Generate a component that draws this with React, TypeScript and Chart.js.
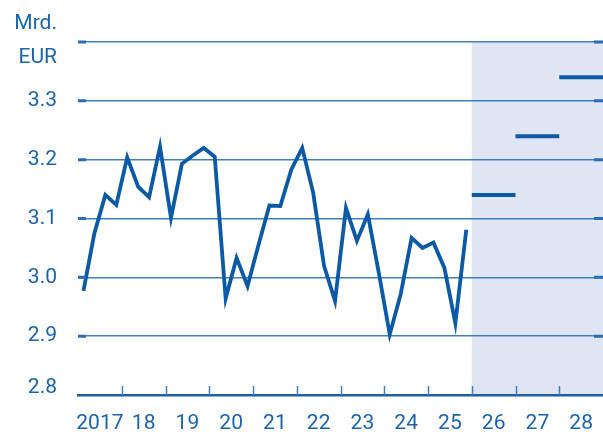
import React, { useEffect, useRef } from "react";
import { Chart, registerables } from "chart.js";

Chart.register(...registerables);

// Quarterly values 2017 Q1 .. 2025 Q4 (Mrd. EUR)
const quarterlyValues: number[] = [
  2.977, 3.075, 3.14, 3.123,
  3.204, 3.154, 3.136, 3.222,
  3.101, 3.193, 3.207, 3.22,
  3.205, 2.964, 3.033, 2.985,
  3.055, 3.122, 3.121, 3.183,
  3.22, 3.144, 3.019, 2.96,
  3.118, 3.062, 3.107, 3.008,
  2.903, 2.971, 3.067, 3.05,
  3.059, 3.016, 2.922, 3.081,
];
const firstYear = 2017;

// Annual projections
const projectionYears: number[] = [2026, 2027, 2028];
const projectionValues: number[] = [3.14, 3.24, 3.34];

const yearLabels: string[] = ["2017", "18", "19", "20", "21", "22", "23", "24", "25", "26", "27", "28"];
const yTicks: number[] = [2.8, 2.9, 3.0, 3.1, 3.2, 3.3, 3.4];
const unitLines: string[] = ["Mrd.", "EUR"];

const TEXT = "#1a63ad";
const GRID = "#3d7fc1";
const LINE = "#0c5aa6";
const SHADE = "#dfe5f2";
const FONT = "Roboto";

const decorPlugin = {
  id: "decor",
  beforeDraw(chart: any) {
    const { ctx, chartArea, scales } = chart;
    const x = scales.x;
    ctx.save();
    ctx.fillStyle = SHADE;
    const sx = x.getPixelForValue(projectionYears[0]);
    ctx.fillRect(sx, chartArea.top - 1, chartArea.right - sx, chartArea.bottom - chartArea.top + 1);
    ctx.restore();
  },
  afterDraw(chart: any) {
    const { ctx, chartArea, scales } = chart;
    const x = scales.x;
    const y = scales.y;
    ctx.save();
    // thick stubs at both ends of grid lines
    ctx.strokeStyle = "#2a6db5";
    ctx.lineWidth = 3;
    yTicks.slice(1).forEach((v) => {
      const py = y.getPixelForValue(v);
      ctx.beginPath();
      ctx.moveTo(chartArea.left, py);
      ctx.lineTo(chartArea.left + 8, py);
      ctx.moveTo(chartArea.right - 9, py);
      ctx.lineTo(chartArea.right, py);
      ctx.stroke();
    });
    // year boundary ticks
    ctx.strokeStyle = GRID;
    ctx.lineWidth = 1.5;
    for (let yr = firstYear + 1; yr < firstYear + yearLabels.length; yr++) {
      const px = Math.round(x.getPixelForValue(yr)) + 0.5;
      ctx.beginPath();
      ctx.moveTo(px, chartArea.bottom);
      ctx.lineTo(px, chartArea.bottom - 9);
      ctx.stroke();
    }
    // unit text and bottom y label (raised above the axis)
    ctx.fillStyle = TEXT;
    ctx.font = `21px ${FONT}`;
    ctx.textAlign = "right";
    ctx.textBaseline = "middle";
    ctx.fillText(unitLines[0], 57, 24);
    ctx.fillText(unitLines[1], 57, 58);
    ctx.fillText(yTicks[0].toFixed(1), 57, y.getPixelForValue(yTicks[0]) - 7);
    ctx.restore();
  },
};

export default function App() {
  const ref = useRef<HTMLCanvasElement | null>(null);

  useEffect(() => {
    if (!ref.current) return;
    const mainData = quarterlyValues.map((v, i) => ({ x: firstYear + 0.125 + i * 0.25, y: v }));
    const projDatasets = projectionYears.map((yr, i) => ({
      data: [
        { x: yr, y: projectionValues[i] },
        { x: yr + 1, y: projectionValues[i] },
      ],
      borderColor: LINE,
      borderWidth: 4,
      pointRadius: 0,
      borderCapStyle: "butt" as const,
    }));
    const chart = new Chart(ref.current, {
      type: "line",
      data: {
        datasets: [
          {
            data: mainData,
            borderColor: LINE,
            borderWidth: 3.8,
            pointRadius: 0,
            tension: 0,
            borderJoinStyle: "miter" as const,
          },
          ...projDatasets,
        ],
      },
      options: {
        animation: false,
        responsive: false,
        devicePixelRatio: 1,
        layout: { padding: { top: 42, left: 0, right: 0, bottom: 0 } },
        plugins: { legend: { display: false }, tooltip: { enabled: false }, title: { display: false } },
        scales: {
          x: {
            type: "linear",
            min: firstYear,
            max: firstYear + yearLabels.length,
            afterBuildTicks: (scale: any) => {
              scale.ticks = yearLabels.map((_, i) => ({ value: firstYear + i + 0.5 }));
            },
            afterFit: (scale: any) => {
              scale.height = 39;
              scale.paddingLeft = 0;
              scale.paddingRight = 0;
            },
            ticks: {
              autoSkip: false,
              maxRotation: 0,
              color: TEXT,
              font: { family: FONT, size: 21 },
              padding: 16,
              callback: (v: any) => yearLabels[Math.floor(Number(v)) - firstYear],
            },
            grid: { display: false, drawTicks: false },
            border: { display: true, color: "#1a5fa8", width: 2.5 },
          },
          y: {
            min: yTicks[0],
            max: yTicks[yTicks.length - 1],
            afterBuildTicks: (scale: any) => {
              scale.ticks = yTicks.map((v) => ({ value: v }));
            },
            afterFit: (scale: any) => {
              scale.width = 78;
              scale.paddingTop = 0;
              scale.paddingBottom = 0;
            },
            ticks: {
              color: TEXT,
              font: { family: FONT, size: 21 },
              padding: 21,
              callback: (v: any) => {
                const n = Number(v);
                if (n >= 3.39 || n <= 2.81) return "";
                return n.toFixed(1);
              },
            },
            grid: { color: GRID, lineWidth: 1.5, drawTicks: false },
            border: { display: false },
          },
        },
      },
      plugins: [decorPlugin],
    });
    return () => chart.destroy();
  }, []);

  return (
    <div style={{ position: "fixed", left: 0, top: 0, width: 603, height: 434, background: "#fff" }}>
      <canvas ref={ref} width={603} height={434} style={{ display: "block" }} />
    </div>
  );
}
